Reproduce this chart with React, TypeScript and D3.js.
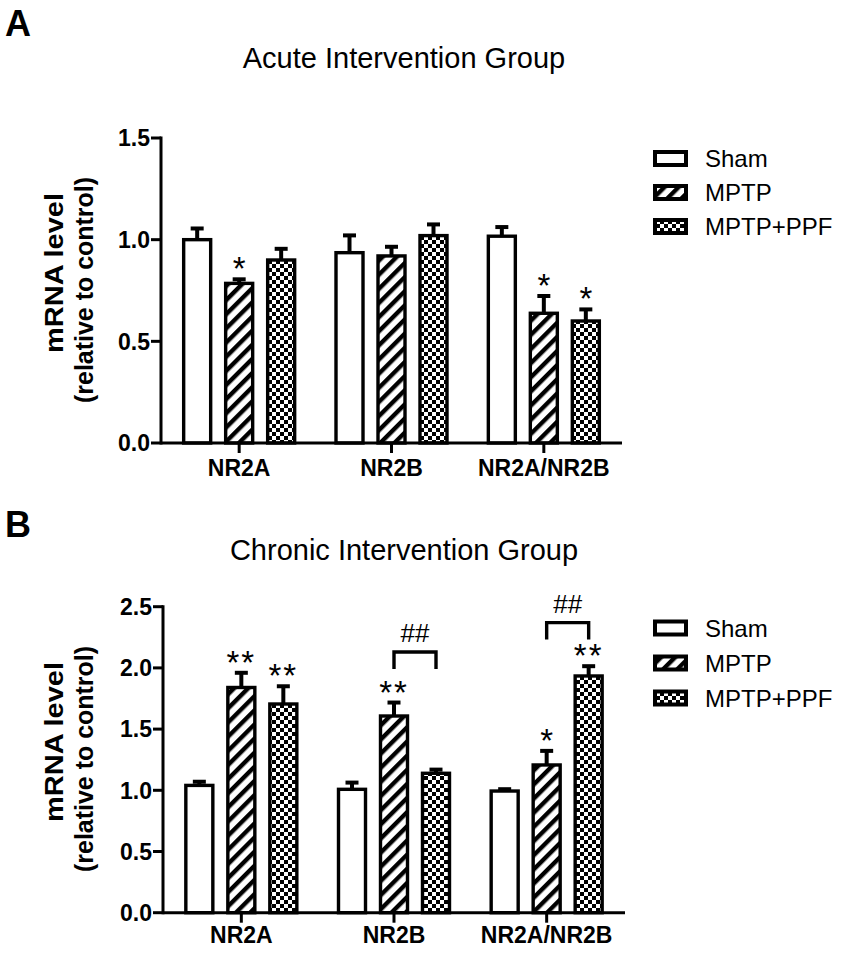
import { useEffect, useRef } from "react";
import * as d3 from "d3";

const CATEGORIES = ["NR2A", "NR2B", "NR2A/NR2B"];
const GROUPS = ["Sham", "MPTP", "MPTP+PPF"];

// acute intervention (panel A)
const ACUTE_SHAM = [1.0, 0.936, 1.017];
const ACUTE_SHAM_ERR = [0.055, 0.085, 0.045];
const ACUTE_MPTP = [0.785, 0.92, 0.638];
const ACUTE_MPTP_ERR = [0.02, 0.045, 0.085];
const ACUTE_PPF = [0.9, 1.02, 0.6];
const ACUTE_PPF_ERR = [0.055, 0.055, 0.057];
const ACUTE_MPTP_SIG = ["*", "", "*"];
const ACUTE_PPF_SIG = ["", "", "*"];
const ACUTE_TICKS = [0, 0.5, 1.0, 1.5];

// chronic intervention (panel B)
const CHRONIC_SHAM = [1.04, 1.008, 0.994];
const CHRONIC_SHAM_ERR = [0.03, 0.055, 0.015];
const CHRONIC_MPTP = [1.84, 1.607, 1.207];
const CHRONIC_MPTP_ERR = [0.12, 0.11, 0.115];
const CHRONIC_PPF = [1.705, 1.139, 1.934];
const CHRONIC_PPF_ERR = [0.145, 0.03, 0.08];
const CHRONIC_MPTP_SIG = ["**", "**", "*"];
const CHRONIC_PPF_SIG = ["**", "", "**"];
const CHRONIC_TICKS = [0, 0.5, 1.0, 1.5, 2.0, 2.5];
const BRACKET_CATS = ["NR2B", "NR2A/NR2B"];
const BRACKET_TOP = [2.13, 2.37];
const BRACKET_LABEL = ["##", "##"];

const FILLS = ["#ffffff", "url(#stripes)", "url(#checks)"];
const FONT = "'Liberation Sans', Arial, Helvetica, sans-serif";

interface PanelCfg {
  letter: string;
  letterY: number;
  title: string;
  titleY: number;
  means: number[][];
  errs: number[][];
  sigs: string[][];
  ticks: number[];
  yMax: number;
  yRange: [number, number];
  axisX: number;
  axisRight: number;
  bandRange: [number, number];
  labelY: number;
  yLabelCenter: number;
  legendTop: number;
  legendStep: number;
  brackets?: { cat: string; top: number; label: string }[];
}

function drawPanel(svg: d3.Selection<SVGSVGElement, unknown, null, undefined>, cfg: PanelCfg) {
  const g = svg.append("g");
  const y = d3.scaleLinear().domain([0, cfg.yMax]).range(cfg.yRange);
  const x0 = d3.scaleBand().domain(CATEGORIES).range(cfg.bandRange);
  const x1 = d3
    .scaleBand()
    .domain(GROUPS)
    .range([-63, 63])
    .paddingInner(0.357)
    .paddingOuter(0.1786);

  // panel letter + title
  g.append("text")
    .attr("x", 5)
    .attr("y", cfg.letterY)
    .attr("font-family", FONT)
    .attr("font-weight", "bold")
    .attr("font-size", 36)
    .text(cfg.letter);
  g.append("text")
    .attr("x", 404)
    .attr("y", cfg.titleY)
    .attr("text-anchor", "middle")
    .attr("font-family", FONT)
    .attr("font-size", 29)
    .text(cfg.title);

  // bars, error bars
  cfg.means.forEach((series, gi) => {
    series.forEach((v, ci) => {
      const cx = x0(CATEGORIES[ci])! + x0.bandwidth() / 2;
      const bx = cx + x1(GROUPS[gi])!;
      const mid = bx + x1.bandwidth() / 2;
      const top = y(v + cfg.errs[gi][ci]);
      g.append("line")
        .attr("x1", mid)
        .attr("x2", mid)
        .attr("y1", y(v))
        .attr("y2", top)
        .attr("stroke", "#000")
        .attr("stroke-width", 4);
      g.append("line")
        .attr("x1", mid - 6.5)
        .attr("x2", mid + 6.5)
        .attr("y1", top)
        .attr("y2", top)
        .attr("stroke", "#000")
        .attr("stroke-width", 4);
      g.append("rect")
        .attr("x", bx)
        .attr("y", y(v))
        .attr("width", x1.bandwidth())
        .attr("height", y(0) - y(v))
        .attr("fill", FILLS[gi])
        .attr("stroke", "#000")
        .attr("stroke-width", 3.4);
      const sig = cfg.sigs[gi][ci];
      if (sig) {
        g.append("text")
          .attr("x", mid)
          .attr("y", top + 1)
          .attr("text-anchor", "middle")
          .attr("font-family", FONT)
          .attr("font-size", 33)
          .attr("letter-spacing", sig.length > 1 ? 2 : 0)
          .text(sig);
      }
    });
  });

  // brackets
  (cfg.brackets || []).forEach((b) => {
    const cx = x0(b.cat)! + x0.bandwidth() / 2;
    const a = cx + x1("MPTP")! + x1.bandwidth() / 2;
    const c = cx + x1("MPTP+PPF")! + x1.bandwidth() / 2;
    const yt = y(b.top);
    g.append("path")
      .attr("d", `M${a},${yt + 17}V${yt}H${c}V${yt + 17}`)
      .attr("fill", "none")
      .attr("stroke", "#000")
      .attr("stroke-width", 3.4);
    g.append("text")
      .attr("x", (a + c) / 2)
      .attr("y", yt - 10)
      .attr("text-anchor", "middle")
      .attr("font-family", FONT)
      .attr("font-size", 26)
      .text(b.label);
  });

  // axes
  g.append("line")
    .attr("x1", cfg.axisX)
    .attr("x2", cfg.axisX)
    .attr("y1", y(cfg.yMax) - 1.5)
    .attr("y2", y(0) + 1.5)
    .attr("stroke", "#000")
    .attr("stroke-width", 3);
  g.append("line")
    .attr("x1", cfg.axisX)
    .attr("x2", cfg.axisRight)
    .attr("y1", y(0))
    .attr("y2", y(0))
    .attr("stroke", "#000")
    .attr("stroke-width", 3);

  cfg.ticks.forEach((t) => {
    g.append("line")
      .attr("x1", cfg.axisX - 10)
      .attr("x2", cfg.axisX)
      .attr("y1", y(t))
      .attr("y2", y(t))
      .attr("stroke", "#000")
      .attr("stroke-width", 3);
    g.append("text")
      .attr("x", cfg.axisX - 11)
      .attr("y", y(t))
      .attr("dy", "0.36em")
      .attr("text-anchor", "end")
      .attr("font-family", FONT)
      .attr("font-weight", "bold")
      .attr("font-size", 23)
      .text(d3.format(".1f")(t));
  });

  CATEGORIES.forEach((c) => {
    const cx = x0(c)! + x0.bandwidth() / 2;
    g.append("line")
      .attr("x1", cx)
      .attr("x2", cx)
      .attr("y1", y(0))
      .attr("y2", y(0) + 10)
      .attr("stroke", "#000")
      .attr("stroke-width", 3);
    g.append("text")
      .attr("x", cx)
      .attr("y", cfg.labelY)
      .attr("text-anchor", "middle")
      .attr("font-family", FONT)
      .attr("font-weight", "bold")
      .attr("font-size", 23)
      .text(c);
  });

  // y label
  const yl = g.append("g").attr("font-family", FONT).attr("font-weight", "bold").attr("font-size", 25);
  yl.append("text")
    .attr("transform", `translate(63,${cfg.yLabelCenter - 17}) rotate(-90)`)
    .attr("text-anchor", "middle")
    .attr("textLength", 160)
    .attr("lengthAdjust", "spacingAndGlyphs")
    .text("mRNA level");
  yl.append("text")
    .attr("transform", `translate(93,${cfg.yLabelCenter}) rotate(-90)`)
    .attr("text-anchor", "middle")
    .attr("textLength", 226)
    .attr("lengthAdjust", "spacingAndGlyphs")
    .text("(relative to control)");

  // legend
  GROUPS.forEach((name, i) => {
    const cy = cfg.legendTop + i * cfg.legendStep;
    g.append("rect")
      .attr("x", 655)
      .attr("y", cy - 6.5)
      .attr("width", 31)
      .attr("height", 13)
      .attr("fill", FILLS[i])
      .attr("stroke", "#000")
      .attr("stroke-width", 4);
    g.append("text")
      .attr("x", 705)
      .attr("y", cy + 8.5)
      .attr("font-family", FONT)
      .attr("font-size", 24)
      .text(name);
  });
}

export default function App() {
  const svgRef = useRef<SVGSVGElement>(null);

  useEffect(() => {
    if (!svgRef.current) return;
    const svg = d3.select(svgRef.current);
    svg.selectAll("*").remove();

    const defs = svg.append("defs");
    const stripes = defs
      .append("pattern")
      .attr("id", "stripes")
      .attr("patternUnits", "userSpaceOnUse")
      .attr("width", 10)
      .attr("height", 10)
      .attr("patternTransform", "rotate(45)");
    stripes.append("rect").attr("width", 10).attr("height", 10).attr("fill", "#fff");
    stripes.append("rect").attr("width", 4.4).attr("height", 10).attr("fill", "#000");

    const checks = defs
      .append("pattern")
      .attr("id", "checks")
      .attr("patternUnits", "userSpaceOnUse")
      .attr("width", 8)
      .attr("height", 8);
    checks.append("rect").attr("width", 8).attr("height", 8).attr("fill", "#fff");
    checks.append("rect").attr("width", 4).attr("height", 4).attr("fill", "#000");
    checks.append("rect").attr("x", 4).attr("y", 4).attr("width", 4).attr("height", 4).attr("fill", "#000");

    svg.append("rect").attr("width", 851).attr("height", 957).attr("fill", "#fff");

    drawPanel(svg, {
      letter: "A",
      letterY: 36,
      title: "Acute Intervention Group",
      titleY: 68,
      means: [ACUTE_SHAM, ACUTE_MPTP, ACUTE_PPF],
      errs: [ACUTE_SHAM_ERR, ACUTE_MPTP_ERR, ACUTE_PPF_ERR],
      sigs: [["", "", ""], ACUTE_MPTP_SIG, ACUTE_PPF_SIG],
      ticks: ACUTE_TICKS,
      yMax: 1.5,
      yRange: [443, 138],
      axisX: 161,
      axisRight: 622,
      bandRange: [163, 620],
      labelY: 476,
      yLabelCenter: 290,
      legendTop: 158.5,
      legendStep: 34,
    });

    drawPanel(svg, {
      letter: "B",
      letterY: 537,
      title: "Chronic Intervention Group",
      titleY: 560,
      means: [CHRONIC_SHAM, CHRONIC_MPTP, CHRONIC_PPF],
      errs: [CHRONIC_SHAM_ERR, CHRONIC_MPTP_ERR, CHRONIC_PPF_ERR],
      sigs: [["", "", ""], CHRONIC_MPTP_SIG, CHRONIC_PPF_SIG],
      ticks: CHRONIC_TICKS,
      yMax: 2.5,
      yRange: [912.7, 606.7],
      axisX: 163,
      axisRight: 625,
      bandRange: [165, 623],
      labelY: 943,
      yLabelCenter: 759,
      legendTop: 628,
      legendStep: 35,
      brackets: BRACKET_CATS.map((c, i) => ({ cat: c, top: BRACKET_TOP[i], label: BRACKET_LABEL[i] })),
    });
  }, []);

  return (
    <svg
      ref={svgRef}
      width={851}
      height={957}
      style={{ position: "absolute", left: 0, top: 0, display: "block" }}
    />
  );
}
